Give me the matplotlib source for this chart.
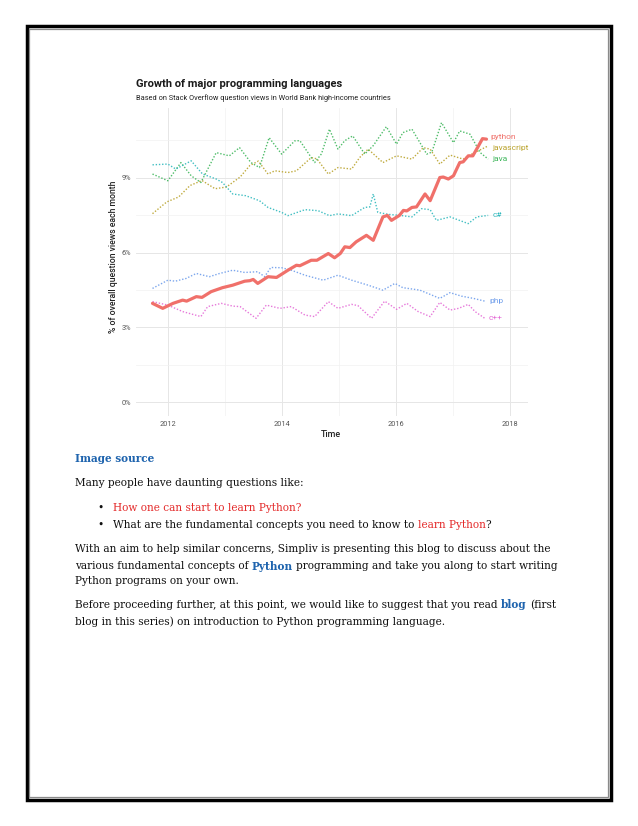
import matplotlib
matplotlib.use("Agg")
import matplotlib.pyplot as plt
from matplotlib.patches import Rectangle
from matplotlib.ticker import FixedLocator

# ---- data (decimal year, % of question views) ----
python_t = [2011.72, 2011.90, 2012.08, 2012.25, 2012.32, 2012.49, 2012.59, 2012.75, 2012.95,
            2013.13, 2013.34, 2013.43, 2013.49, 2013.57, 2013.75, 2013.90, 2013.99, 2014.10,
            2014.25, 2014.31, 2014.51, 2014.61, 2014.81, 2014.92, 2015.02, 2015.10, 2015.19,
            2015.30, 2015.48, 2015.60, 2015.77, 2015.85, 2015.92, 2016.06, 2016.13, 2016.19,
            2016.28, 2016.36, 2016.51, 2016.60, 2016.77, 2016.83, 2016.92, 2017.01, 2017.12,
            2017.18, 2017.27, 2017.35, 2017.45, 2017.52, 2017.59]
python_v = [3.96, 3.76, 3.96, 4.09, 4.05, 4.23, 4.20, 4.43, 4.59,
            4.69, 4.85, 4.87, 4.92, 4.76, 5.03, 5.00, 5.13, 5.29,
            5.49, 5.47, 5.69, 5.69, 5.96, 5.79, 5.96, 6.23, 6.20,
            6.43, 6.69, 6.49, 7.43, 7.49, 7.29, 7.49, 7.69, 7.67,
            7.81, 7.83, 8.35, 8.08, 9.01, 9.03, 8.95, 9.08, 9.61,
            9.64, 9.88, 9.88, 10.28, 10.57, 10.55]

java_t = [2011.72, 2011.99, 2012.22, 2012.40, 2012.57, 2012.84, 2013.07, 2013.25, 2013.45,
          2013.60, 2013.77, 2013.99, 2014.22, 2014.31, 2014.57, 2014.69, 2014.83, 2014.98,
          2015.10, 2015.24, 2015.45, 2015.60, 2015.83, 2016.01, 2016.12, 2016.28, 2016.54,
          2016.63, 2016.80, 2017.01, 2017.12, 2017.30, 2017.48, 2017.62]
java_v = [9.15, 8.88, 9.61, 9.08, 8.81, 10.01, 9.88, 10.21, 9.61,
          9.41, 10.61, 9.95, 10.48, 10.49, 9.61, 9.96, 10.95, 10.15,
          10.49, 10.68, 9.95, 10.29, 11.05, 10.35, 10.81, 10.95, 9.95,
          10.03, 11.21, 10.41, 10.88, 10.75, 10.01, 9.75]

js_t = [2011.72, 2011.97, 2012.18, 2012.38, 2012.59, 2012.82, 2013.02, 2013.26, 2013.43,
        2013.58, 2013.75, 2013.87, 2014.10, 2014.25, 2014.51, 2014.61, 2014.81, 2014.98,
        2015.22, 2015.36, 2015.51, 2015.77, 2016.01, 2016.28, 2016.48, 2016.60, 2016.77,
        2016.95, 2017.18, 2017.33, 2017.48, 2017.62]
js_v = [7.56, 8.03, 8.23, 8.69, 8.89, 8.56, 8.63, 9.03, 9.49,
        9.67, 9.15, 9.28, 9.21, 9.28, 9.81, 9.76, 9.15, 9.41,
        9.35, 9.81, 10.15, 9.61, 9.88, 9.75, 10.21, 10.15, 9.55,
        9.91, 9.75, 9.95, 10.12, 10.28]

cs_t = [2011.72, 2011.99, 2012.13, 2012.40, 2012.60, 2012.84, 2012.95, 2013.13, 2013.36,
        2013.60, 2013.75, 2013.99, 2014.10, 2014.40, 2014.63, 2014.83, 2014.98, 2015.22,
        2015.45, 2015.54, 2015.60, 2015.68, 2015.87, 2016.07, 2016.28, 2016.45, 2016.60,
        2016.71, 2016.95, 2017.27, 2017.42, 2017.62]
cs_v = [9.52, 9.55, 9.35, 9.68, 9.15, 8.95, 8.81, 8.35, 8.28,
        8.08, 7.81, 7.61, 7.48, 7.72, 7.68, 7.48, 7.55, 7.48,
        7.81, 7.83, 8.35, 7.61, 7.53, 7.49, 7.43, 7.76, 7.72,
        7.29, 7.43, 7.16, 7.43, 7.49]

php_t = [2011.72, 2011.99, 2012.12, 2012.31, 2012.49, 2012.72, 2012.90, 2013.13, 2013.34,
         2013.57, 2013.69, 2013.80, 2013.99, 2014.16, 2014.40, 2014.72, 2014.98, 2015.22,
         2015.51, 2015.77, 2015.98, 2016.12, 2016.42, 2016.77, 2016.95, 2017.15, 2017.36,
         2017.56]
php_v = [4.56, 4.89, 4.85, 4.96, 5.16, 5.03, 5.16, 5.29, 5.20,
         5.23, 5.03, 5.40, 5.39, 5.29, 5.09, 4.89, 5.09, 4.89,
         4.69, 4.49, 4.76, 4.59, 4.49, 4.16, 4.39, 4.25, 4.16,
         4.05]

cpp_t = [2011.72, 2011.99, 2012.25, 2012.57, 2012.69, 2012.93, 2013.13, 2013.26, 2013.54,
         2013.72, 2013.96, 2014.16, 2014.40, 2014.57, 2014.81, 2014.98, 2015.22, 2015.33,
         2015.57, 2015.80, 2016.01, 2016.19, 2016.39, 2016.60, 2016.77, 2016.95, 2017.10,
         2017.27, 2017.39, 2017.56]
cpp_v = [4.03, 3.89, 3.63, 3.43, 3.83, 3.96, 3.85, 3.83, 3.36,
         3.89, 3.76, 3.83, 3.49, 3.43, 4.03, 3.76, 3.92, 3.87,
         3.36, 4.05, 3.72, 3.96, 3.63, 3.43, 4.00, 3.69, 3.76,
         3.92, 3.63, 3.36]

names = ["python", "javascript", "java", "c#", "php", "c++"]
colors = ["#F0706A", "#B9A22A", "#3DB65A", "#2DB8BC", "#6E9DEB", "#E46AD6"]
series_t = [python_t, js_t, java_t, cs_t, php_t, cpp_t]
series_v = [python_v, js_v, java_v, cs_v, php_v, cpp_v]
# small vertical nudges (points) so the two top labels don't collide
label_nudge = [1.6, -1.2, 0, 0, 0, 0]

year_ticks = [2012, 2014, 2016, 2018]
pct_ticks = [0, 3, 6, 9]

W, H = 638, 826
fig = plt.figure(figsize=(W / 100, H / 100), dpi=100)
fig.patch.set_facecolor("white")


def fx(px):
    return px / W


def fy(py):
    return 1 - py / H


# page border (black frame with a thin grey line inside)
fig.patches.append(Rectangle((fx(26.5), fy(799.5)), fx(610.5) - fx(26.5), fy(26.5) - fy(799.5),
                             transform=fig.transFigure, fill=False, ec="black", lw=2.5))
fig.patches.append(Rectangle((fx(28.9), fy(796.5)), fx(608.0) - fx(28.9), fy(28.9) - fy(796.5),
                             transform=fig.transFigure, fill=False, ec="#8a8a8a", lw=0.9))

# ---- chart ----
cfont = "Roboto"
narrow = ["Liberation Sans Narrow", "Roboto"]
ax = fig.add_axes([fx(136), fy(416), fx(528) - fx(136), fy(108) - fy(416)])
ax.set_xlim(2011.43, 2018.32)
ax.set_ylim(-0.56, 11.8)
for s in ax.spines.values():
    s.set_visible(False)
ax.xaxis.set_major_locator(FixedLocator(year_ticks))
ax.xaxis.set_minor_locator(FixedLocator([2013, 2015, 2017]))
ax.yaxis.set_major_locator(FixedLocator(pct_ticks))
ax.yaxis.set_minor_locator(FixedLocator([1.5, 4.5, 7.5, 10.5]))
ax.set_xticklabels([str(y) for y in year_ticks])
ax.set_yticklabels([f"{p}%" for p in pct_ticks])
ax.grid(which="major", color="#e6e6e6", lw=0.7)
ax.grid(which="minor", color="#f1f1f1", lw=0.5)
ax.set_axisbelow(True)
ax.tick_params(which="both", length=0, labelsize=5.3, labelcolor="#555555")
ax.tick_params(axis="y", pad=3.5)
ax.tick_params(axis="x", pad=3.5)
for lab in ax.get_xticklabels() + ax.get_yticklabels():
    lab.set_family(cfont)

for name, col, t, v, dy in zip(names, colors, series_t, series_v, label_nudge):
    if name == "python":
        ax.plot(t, v, color=col, lw=2.3, solid_capstyle="round", zorder=3)
    else:
        ax.plot(t, v, color=col, lw=1.0, ls=(0, (1, 1.3)), alpha=0.9, zorder=2)
    ax.annotate(name, (t[-1], v[-1]), xytext=(3, dy), textcoords="offset points",
                color=col, fontsize=6.0, family=narrow, va="center", ha="left")

fig.text(fx(136), fy(84), "Growth of major programming languages", family=cfont,
         weight="bold", fontsize=8.0, color="#1a1a1a", va="center")
fig.text(fx(136), fy(98), "Based on Stack Overflow question views in World Bank high-income countries",
         family=cfont, fontsize=5.35, color="#222222", va="center")
fig.text(fx(331), fy(434), "Time", family=cfont, weight="medium", fontsize=6.4,
         color="#222222", ha="center", va="center")
fig.text(fx(113), fy(257), "% of overall question views each month", family=cfont,
         weight="medium", fontsize=6.2, color="#222222", ha="center", va="center",
         rotation=90)

# ---- document text ----
bfont = "DejaVu Serif"
bsize = 7.6
black, blue, red = "#111111", "#1F64AE", "#E42B2B"
renderer = fig.canvas.get_renderer()


def width_px(s, weight):
    t = fig.text(0, 0, s, family=bfont, fontsize=bsize, weight=weight)
    w = t.get_window_extent(renderer).width
    t.remove()
    return w


space_w = width_px("a a", "normal") - width_px("aa", "normal")


def draw_runs(x, y, runs):
    for txt, col, wt in runs:
        core = txt.strip(" ")
        lead = len(txt) - len(txt.lstrip(" "))
        trail = len(txt) - len(txt.rstrip(" "))
        x += lead * space_w
        if core:
            fig.text(fx(x), fy(y), core, family=bfont, fontsize=bsize, weight=wt,
                     color=col, va="center", ha="left")
            x += width_px(core, wt)
        x += trail * space_w


n, b = "normal", "bold"
draw_runs(75, 459, [("Image source", blue, b)])
draw_runs(75, 483, [("Many people have daunting questions like:", black, n)])
fig.text(fx(97), fy(508), "\u2022", family=bfont, fontsize=bsize, color=black, va="center")
draw_runs(113, 508, [("How one can start to learn Python?", red, n)])
fig.text(fx(97), fy(525), "\u2022", family=bfont, fontsize=bsize, color=black, va="center")
draw_runs(113, 525, [("What are the fundamental concepts you need to know to ", black, n),
                     ("learn Python", red, n), ("?", black, n)])
draw_runs(75, 549, [("With an aim to help similar concerns, Simpliv is presenting this blog to discuss about the",
                     black, n)])
draw_runs(75, 566, [("various fundamental concepts of ", black, n), ("Python", blue, b),
                    (" programming and take you along to start writing", black, n)])
draw_runs(75, 581, [("Python programs on your own.", black, n)])
draw_runs(75, 605, [("Before proceeding further, at this point, we would like to suggest that you read ",
                     black, n), ("blog", blue, b), (" (first", black, n)])
draw_runs(75, 622, [("blog in this series) on introduction to Python programming language.", black, n)])

fig.savefig("out.png", dpi=100, facecolor="white")
